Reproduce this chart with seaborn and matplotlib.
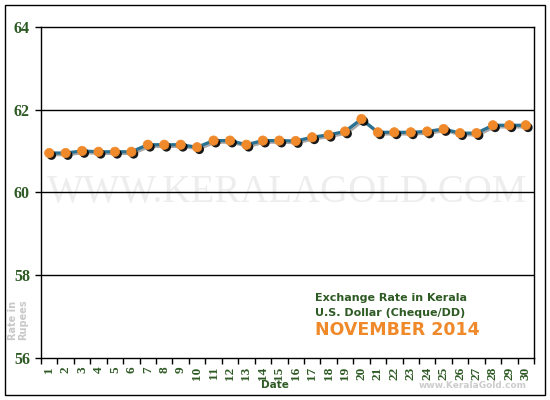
import matplotlib
matplotlib.use('Agg')
import matplotlib.pyplot as plt
import matplotlib.patheffects as pe
from matplotlib.patches import Rectangle
import seaborn as sns
import numpy as np
import pandas as pd

# Data (USD cheque/DD rate, Nov 2014)
dates = list(range(1, 31))
rates = [60.95, 60.95, 61.00, 60.98, 60.98, 60.98, 61.15, 61.15, 61.15, 61.09,
         61.25, 61.25, 61.15, 61.25, 61.25, 61.24, 61.33, 61.39, 61.47, 61.77,
         61.45, 61.45, 61.45, 61.47, 61.53, 61.43, 61.43, 61.62, 61.62, 61.62]
y_ticks = [56, 58, 60, 62, 64]

GREEN = '#2E5A24'
ORANGE = '#F0892A'
TEAL = '#2A7192'

df = pd.DataFrame({'date': dates, 'rate': rates})

sns.set_theme(style='white')
plt.rcParams['font.family'] = ['DejaVu Sans']

fig = plt.figure(figsize=(5.5, 4), dpi=100)
fig.patch.set_facecolor('white')
ax = fig.add_axes([41 / 550, 1 - 358 / 400, (534 - 41) / 550, (358 - 26.7) / 400])
ax.set_facecolor('white')

# watermark
ax.text(0.5, 0.5, 'WWW.KERALAGOLD.COM', transform=ax.transAxes, ha='center', va='center',
        fontsize=28, family='Liberation Serif', color='#EDEDED', zorder=0)

# grid lines at each major y tick
for v in y_ticks[1:-1]:
    ax.axhline(v, color='black', lw=1, zorder=1)

# line with a soft shadow
sns.lineplot(data=df, x='date', y='rate', ax=ax, color=TEAL, lw=2.3, zorder=3,
             path_effects=[pe.SimpleLineShadow(offset=(1.2, -1.2), shadow_color='#555555', alpha=0.5),
                           pe.Normal()])
# markers with a dark drop shadow
sns.scatterplot(data=df, x='date', y='rate', ax=ax, color=ORANGE, s=45, edgecolor=ORANGE,
                linewidth=0.5, zorder=4,
                path_effects=[pe.SimplePatchShadow(offset=(1.6, -1.6), shadow_rgbFace='black', alpha=0.9),
                              pe.Normal()])

ax.set_xlim(0.5, 30.5)
ax.set_ylim(56, 64)
ax.set_yticks(y_ticks)
ax.set_yticklabels([str(v) for v in y_ticks], family='Liberation Serif', fontweight='bold',
                   fontsize=11.5, color=GREEN)
ax.set_xticks(dates)
ax.set_xticklabels([str(d) for d in dates], rotation=90, family='Liberation Serif',
                   fontweight='bold', fontsize=9.5, color=GREEN)
ax.set_xticks(np.arange(0.5, 31, 1), minor=True)
ax.tick_params(axis='x', which='major', length=0, pad=6)
ax.tick_params(axis='x', which='minor', length=4, width=1, color='black', direction='out', bottom=True)
ax.tick_params(axis='y', which='major', length=4, width=1, color='black', direction='out', left=True, pad=4)
ax.set_xlabel('')
ax.set_ylabel('')
for s in ax.spines.values():
    s.set_color('black')
    s.set_linewidth(1)

# text annotations
fig.text(275 / 550, 1 - 385 / 400, 'Date', ha='center', va='center', fontsize=7.5,
         fontweight='bold', color=GREEN)
fig.text(18 / 550, 1 - 320 / 400, 'Rate in\nRupees', ha='center', va='center', rotation=90,
         fontsize=7, fontweight='bold', color='#C8C8C8', linespacing=1.1)
fig.text(315 / 550, 1 - 298 / 400, 'Exchange Rate in Kerala', ha='left', va='center',
         fontsize=8, fontweight='bold', color=GREEN)
fig.text(315 / 550, 1 - 313 / 400, 'U.S. Dollar (Cheque/DD)', ha='left', va='center',
         fontsize=8, fontweight='bold', color=GREEN)
fig.text(315 / 550, 1 - 330 / 400, 'NOVEMBER 2014', ha='left', va='center',
         fontsize=12.5, fontweight='bold', color=ORANGE)
fig.text(527 / 550, 1 - 385 / 400, 'www.KeralaGold.com', ha='right', va='center',
         fontsize=6.5, fontweight='bold', color='#CCCCCC')

# outer frame
fig.patches.append(Rectangle((5 / 550, 5 / 400), 540 / 550, 390 / 400, transform=fig.transFigure,
                             fill=False, edgecolor='black', lw=1))

fig.savefig('out.png', dpi=100, facecolor='white')
